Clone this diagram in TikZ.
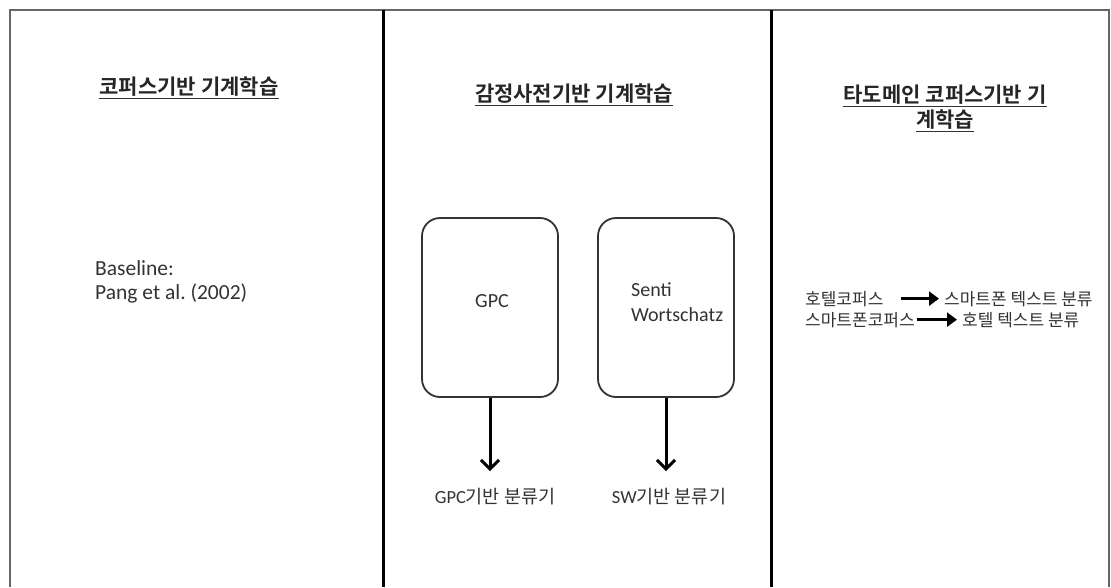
\documentclass[tikz,border=0pt]{standalone}
\usepackage{fontspec}
\setmainfont{Carlito}
\newfontfamily\kr{Noto Sans CJK KR}
\newfontfamily\krb{Noto Sans CJK KR Bold}
\usetikzlibrary{arrows.meta}
\frenchspacing
\tikzset{
  titletext/.style={font=\krb\fontsize{21}{25}\selectfont, inner sep=0pt, text=black!85},
  uline/.style={line width=1.8pt, black!80},
  latintext/.style={font=\fontsize{21.5}{25}\selectfont, inner sep=0pt, text=black!80},
  boxtext/.style={font=\fontsize{20}{25}\selectfont, inner sep=0pt, text=black!80, align=left},
  krtext/.style={font=\kr\fontsize{17}{20}\selectfont, inner sep=0pt, text=black!80},
  outtext/.style={font=\kr\fontsize{18.5}{22}\selectfont, inner sep=0pt, text=black!80},
  roundbox/.style={draw=black!80, line width=1.8pt, rounded corners=18pt, minimum width=136pt, minimum height=179pt, inner sep=0pt},
  varrow/.style={line width=3pt, -{Straight Barb[length=9pt,width=18pt,line width=3pt]}},
  tarrow/.style={line width=3.5pt, -{Triangle[length=10pt,width=14pt]}},
  framel/.style={black!60, line width=2.5pt},
  divl/.style={black, line width=3pt}
}
\begin{document}
\begin{tikzpicture}[x=1pt,y=-1pt]
\useasboundingbox (0,0) rectangle (1111,587);
\fill[white] (0,0) rectangle (1111,587);
% frame
\draw[framel] (10,587) -- (10,10) -- (1109,10) -- (1109,587);
\draw[divl] (383,10) -- (383,587);
\draw[divl] (771,10) -- (771,587);

% titles
\node[titletext, anchor=base] (t1) at (189,94) {코퍼스기반 기계학습};
\draw[uline] ([yshift=-4.5pt]t1.base west) -- ([yshift=-4.5pt]t1.base east);
\node[titletext, anchor=base] (t2) at (574,101) {감정사전기반 기계학습};
\draw[uline] ([yshift=-4.5pt]t2.base west) -- ([yshift=-4.5pt]t2.base east);
\node[titletext, anchor=base] (t3a) at (945,102) {타도메인 코퍼스기반 기};
\draw[uline] ([yshift=-4.5pt]t3a.base west) -- ([yshift=-4.5pt]t3a.base east);
\node[titletext, anchor=base] (t3b) at (945,127) {계학습};
\draw[uline] ([yshift=-4.5pt]t3b.base west) -- ([yshift=-4.5pt]t3b.base east);

% left column
\node[latintext, anchor=base west] (bl1) at (95,275) {Baseline:};
\node[latintext, anchor=base west] (bl2) at (95,299) {Pang et al. (2002)};

% middle column
\node[roundbox] (gpc) at (490,307.5) {};
\node[roundbox] (sw) at (666,307.5) {};
\node[boxtext] (gpcl) at (492,301) {GPC};
\node[boxtext, anchor=west] (swl) at (631,302) {Senti\\Wortschatz};
\node[outtext] (gpco) at (495,497) {\fontspec{Carlito}GPC\kr 기반 분류기};
\node[outtext] (swo) at (669,497) {\fontspec{Carlito}SW\kr 기반 분류기};
\coordinate (g1) at (gpc.south |- 0,471);
\coordinate (s1) at (sw.south |- 0,471);
\draw[varrow] (gpc.south) -- (g1);
\draw[varrow] (sw.south) -- (s1);

% right column
\node[krtext, anchor=base west] (h1) at (805,305) {호텔코퍼스};
\node[krtext, anchor=base west] (h1r) at (944,305) {스마트폰 텍스트 분류};
\node[krtext, anchor=base west] (h2) at (805,326) {스마트폰코퍼스};
\node[krtext, anchor=base west] (h2r) at (962,326) {호텔 텍스트 분류};
\draw[tarrow, shorten <=17pt, shorten >=5pt] (h1.east) -- (h1.east -| h1r.west);
\draw[tarrow, shorten <=2pt, shorten >=5pt] (h2.east) -- (h2.east -| h2r.west);
\end{tikzpicture}
\end{document}
